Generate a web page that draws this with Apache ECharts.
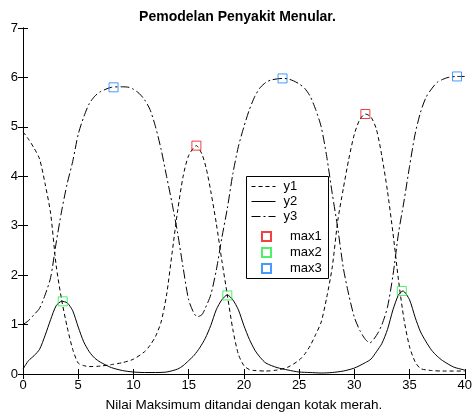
<!DOCTYPE html>
<html>
<head>
<meta charset="utf-8">
<script src="https://cdn.jsdelivr.net/npm/echarts@6/dist/echarts.min.js"></script>
<style>html,body{margin:0;padding:0;background:#fff}#c{width:475px;height:417px}</style>
</head>
<body>
<div id="c"></div>
<script>
const titleText = 'Pemodelan Penyakit Menular.';
const xLabelText = 'Nilai Maksimum ditandai dengan kotak merah.';
const xTicks = [0, 5, 10, 15, 20, 25, 30, 35, 40];
const yTicks = [0, 1, 2, 3, 4, 5, 6, 7];

const y1X = [0,0.5,1,1.5,2,2.5,3,3.5,4,4.5,5,5.5,6,7,8,9,10,11,11.5,12,12.5,13,13.5,14,14.5,15,15.7,16.2,16.6,17,17.5,18,18.5,19,19.5,20,20.5,21,22,23,24,25,25.5,26,26.5,27,27.5,28,28.5,29,29.5,30,30.5,31,31.5,32,32.5,33,33.5,34,34.5,35,35.5,36,37,38,40];
const y1Y = [4.9,4.75,4.57,4.35,3.85,3.25,2.2,1.5,0.95,0.5,0.22,0.17,0.15,0.16,0.19,0.23,0.3,0.45,0.58,0.76,1.05,1.6,2.45,3.3,4.0,4.42,4.62,4.45,4.15,3.7,3.05,2.3,1.6,0.9,0.4,0.17,0.09,0.07,0.06,0.08,0.14,0.28,0.4,0.57,0.8,1.05,1.55,2.16,3.1,3.75,4.35,4.85,5.15,5.26,5.2,4.95,4.4,3.7,2.85,1.9,1.1,0.55,0.25,0.11,0.07,0.06,0.06];

const y2X = [0,0.5,1,1.5,2,2.5,3,3.5,4,4.5,5,5.5,6,6.5,7,8,9,10,11,12,13,14,14.5,15,15.5,16,16.5,17,17.5,18,18.5,19,19.5,20,20.5,21,21.5,22,23,24,25,26,27,28,29,30,31,31.5,32,32.5,33,33.5,34,34.4,35,35.5,36,36.5,37,37.5,38,39,40];
const y2Y = [0.1,0.27,0.37,0.5,0.78,1.1,1.38,1.47,1.44,1.28,0.95,0.65,0.45,0.32,0.24,0.13,0.07,0.04,0.03,0.03,0.04,0.1,0.17,0.27,0.38,0.53,0.72,0.98,1.3,1.5,1.6,1.5,1.3,0.98,0.7,0.48,0.33,0.22,0.13,0.08,0.04,0.03,0.02,0.03,0.06,0.12,0.23,0.3,0.45,0.62,0.9,1.3,1.6,1.68,1.5,1.15,0.85,0.65,0.48,0.36,0.27,0.14,0.08];

const y3X = [0,0.5,1,1.5,2,2.5,3,3.5,4,4.5,5,5.5,6,6.5,7,8,9,9.6,10,10.5,11,11.5,12,12.5,13,13.5,14,14.5,15,15.5,15.8,16.2,16.5,17,17.5,18,18.5,19,19.5,20,20.5,21,21.5,22,22.5,23.5,24,24.5,25,25.5,26,26.5,27,27.5,28,28.5,29,29.5,30,30.5,31,31.4,32,32.5,33,33.5,34,34.5,35,35.5,36,36.5,37,37.5,38,38.5,39.3,40];
const y3Y = [1.0,1.08,1.2,1.33,1.6,1.95,2.65,3.3,3.85,4.3,4.85,5.2,5.47,5.62,5.71,5.8,5.81,5.8,5.76,5.68,5.55,5.35,5.0,4.55,4.0,3.45,2.85,2.15,1.5,1.22,1.16,1.2,1.33,1.6,2.1,2.75,3.35,4.05,4.6,5.0,5.35,5.62,5.8,5.9,5.95,5.98,5.97,5.93,5.87,5.78,5.62,5.35,5.0,4.4,3.65,2.95,2.15,1.6,1.15,0.88,0.7,0.63,0.78,1.0,1.35,2.0,2.85,3.5,4.2,4.85,5.3,5.6,5.77,5.9,5.96,6.0,6.02,6.02];

const max1X = [15.7, 31.0];
const max1Y = [4.62, 5.26];
const max2X = [3.6, 18.5, 34.3];
const max2Y = [1.47, 1.59, 1.68];
const max3X = [8.2, 23.5, 39.3];
const max3Y = [5.8, 5.98, 6.02];

const zip = (xs, ys) => xs.map((x, i) => [x, ys[i]]);
const FONT = 'Liberation Sans';
const DASH_Y1 = [4, 3];
const DASH_Y3 = [9, 3, 2, 3];

const chart = echarts.init(document.getElementById('c'), null, {renderer: 'canvas'});

const lineSeries = (name, xs, ys, type) => ({
  name, type: 'line', data: zip(xs, ys), showSymbol: false, symbol: 'none',
  smooth: 0.25, xAxisIndex: 0, yAxisIndex: 0,
  lineStyle: {color: '#000', width: 1, type: type},
  itemStyle: {color: '#000'}, animation: false, z: 2
});
const maxSeries = (name, xs, ys, color) => ({
  name, type: 'scatter', data: zip(xs, ys), symbol: 'rect', symbolSize: 9,
  xAxisIndex: 0, yAxisIndex: 0,
  itemStyle: {color: 'rgba(0,0,0,0)', borderColor: color, borderWidth: 1},
  animation: false, z: 3
});

const axisCommon = {
  type: 'value',
  axisLine: {show: true, lineStyle: {color: '#000', width: 1}},
  axisTick: {show: true, inside: true, length: 5, lineStyle: {color: '#000'}},
  splitLine: {show: false}
};

const hiddenSymbol = {color: 'rgba(0,0,0,0)', borderColor: 'rgba(0,0,0,0)', borderWidth: 0};

chart.setOption({
  backgroundColor: '#fff',
  animation: false,
  title: {
    text: titleText, left: 'center', top: 5,
    textStyle: {fontFamily: FONT, fontSize: 14, fontWeight: 'bold', color: '#000'}
  },
  grid: {left: 23, right: 4, top: 28, bottom: 39, containLabel: false},
  xAxis: [
    Object.assign({}, axisCommon, {
      position: 'bottom', min: 0, max: 40, interval: 5,
      axisLabel: {fontFamily: FONT, fontSize: 13, color: '#000', margin: 5,
        formatter: v => xTicks.includes(v) ? String(v) : ''},
      name: xLabelText, nameLocation: 'middle', nameGap: 24,
      nameTextStyle: {fontFamily: FONT, fontSize: 13.5, color: '#000'}
    }),
    Object.assign({}, axisCommon, {
      position: 'top', min: 0, max: 40, interval: 5, axisLabel: {show: false}
    })
  ],
  yAxis: [
    Object.assign({}, axisCommon, {
      position: 'left', min: 0, max: 7, interval: 1,
      axisLabel: {fontFamily: FONT, fontSize: 13, color: '#000', margin: 5,
        formatter: v => yTicks.includes(v) ? String(v) : ''}
    }),
    Object.assign({}, axisCommon, {
      position: 'right', min: 0, max: 7, interval: 1, axisLabel: {show: false}
    })
  ],
  graphic: [{
    type: 'rect', left: 246, top: 176, z: 10,
    shape: {width: 82, height: 102},
    style: {fill: '#fff', stroke: '#000', lineWidth: 1}
  }],
  legend: [
    {
      data: [
        {name: 'y1', itemStyle: hiddenSymbol, lineStyle: {color: '#000', width: 1, type: DASH_Y1}},
        {name: 'y2', itemStyle: hiddenSymbol, lineStyle: {color: '#000', width: 1, type: 'solid'}},
        {name: 'y3', itemStyle: hiddenSymbol, lineStyle: {color: '#000', width: 1, type: DASH_Y3}}
      ],
      orient: 'vertical', left: 251, top: 180,
      padding: 0, itemWidth: 24, itemHeight: 14, itemGap: 2, z: 20,
      textStyle: {fontFamily: FONT, fontSize: 13, color: '#000', padding: [0, 0, 0, 3]},
      selectedMode: false
    },
    {
      data: ['max1', 'max2', 'max3'], orient: 'vertical', left: 261, top: 230,
      padding: 0, itemWidth: 9, itemHeight: 9, itemGap: 3, z: 20,
      textStyle: {fontFamily: FONT, fontSize: 13, color: '#000', padding: [0, 0, 0, 14]},
      selectedMode: false
    }
  ],
  series: [
    lineSeries('y1', y1X, y1Y, DASH_Y1),
    lineSeries('y2', y2X, y2Y, 'solid'),
    lineSeries('y3', y3X, y3Y, DASH_Y3),
    maxSeries('max1', max1X, max1Y, '#ee1111'),
    maxSeries('max2', max2X, max2Y, '#22ee44'),
    maxSeries('max3', max3X, max3Y, '#1a80ff')
  ]
});
</script>
</body>
</html>
